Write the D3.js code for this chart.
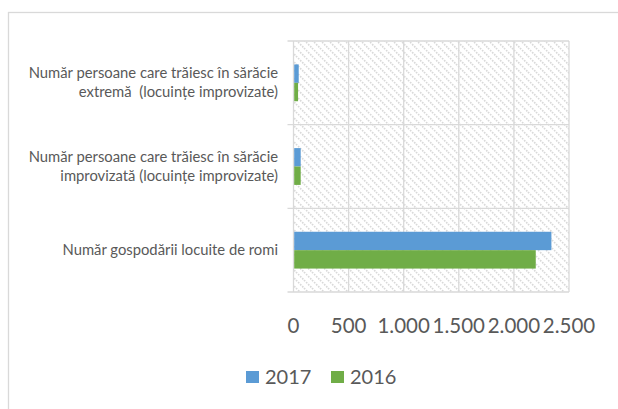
<!DOCTYPE html>
<html>
<head>
<meta charset="utf-8">
<script src="https://cdn.jsdelivr.net/npm/d3@7"></script>
<style>
  html, body { margin: 0; padding: 0; background: #fff; }
  svg { display: block; }
  text { font-family: Lato, "Open Sans", sans-serif; fill: #595959; }
</style>
</head>
<body>
<svg id="chart" width="618" height="409"></svg>
<script>
// Categories (top to bottom), each split into its printed lines
const categories = [
  "Număr persoane care trăiesc în sărăcie extremă  (locuințe improvizate)",
  "Număr persoane care trăiesc în sărăcie improvizată (locuințe improvizate)",
  "Număr gospodării locuite de romi"
];
const categoryLines = [
  ["Număr persoane care trăiesc în sărăcie", "extremă  (locuințe improvizate)"],
  ["Număr persoane care trăiesc în sărăcie", "improvizată (locuințe improvizate)"],
  ["Număr gospodării locuite de romi"]
];
const seriesNames = ["2017", "2016"];
const values2017 = [41, 59, 2334];
const values2016 = [35, 59, 2192];
const xTicks = [0, 500, 1000, 1500, 2000, 2500];
const colors = ["#5b9bd5", "#70ad47"];

const series = [values2017, values2016];
const svg = d3.select("#chart");

// Outer chart-area border
svg.append("rect")
  .attr("x", 8.5).attr("y", 12.5)
  .attr("width", 640).attr("height", 420)
  .attr("fill", "#fff").attr("stroke", "#d9d9d9").attr("stroke-width", 1.3);

const plot = { left: 293.5, right: 569, top: 41, bottom: 292 };

const x = d3.scaleLinear().domain([0, 2500]).range([plot.left, plot.right]);
const y = d3.scaleBand().domain(categories)
  .range([plot.top, plot.bottom]).paddingInner(0.56).paddingOuter(0.28);
const ySub = d3.scaleBand().domain(seriesNames).range([0, y.bandwidth()]);

// Diagonal hatch fill for the plot area
const defs = svg.append("defs");
const pat = defs.append("pattern")
  .attr("id", "hatch").attr("patternUnits", "userSpaceOnUse")
  .attr("width", 8).attr("height", 8);
pat.append("path")
  .attr("d", "M-2,-2 L10,10 M-2,6 L2,10 M6,-2 L10,2")
  .attr("stroke", "#d9d9d9").attr("stroke-width", 1.7)
  .attr("stroke-dasharray", "1.6,1.3");

svg.append("rect")
  .attr("x", plot.left).attr("y", plot.top)
  .attr("width", plot.right - plot.left).attr("height", plot.bottom - plot.top)
  .attr("fill", "url(#hatch)");

// Vertical gridlines
const grid = svg.append("g").attr("stroke", "#d9d9d9").attr("stroke-width", 1.3);
grid.selectAll("line.v").data(xTicks).join("line")
  .attr("x1", d => x(d)).attr("x2", d => x(d))
  .attr("y1", plot.top).attr("y2", plot.bottom);

// Horizontal category separators
const bounds = [plot.top].concat(categories.map(c => y(c) - y.paddingOuter() * y.step() + y.step()));
grid.selectAll("line.h").data(bounds).join("line")
  .attr("x1", plot.left - 6).attr("x2", plot.right)
  .attr("y1", d => d).attr("y2", d => d);

// Bars
series.forEach((vals, si) => {
  svg.append("g").selectAll("rect").data(vals).join("rect")
    .attr("x", x(0) + 0.7)
    .attr("y", (d, i) => y(categories[i]) + ySub(seriesNames[si]))
    .attr("width", d => x(d) - x(0))
    .attr("height", ySub.bandwidth())
    .attr("fill", colors[si]);
});

// X axis tick labels
const locale = d3.formatLocale({ decimal: ",", thousands: ".", grouping: [3], currency: ["", ""] });
const fmt = locale.format(",");
svg.append("g").selectAll("text").data(xTicks).join("text")
  .attr("x", d => x(d)).attr("y", 333)
  .attr("text-anchor", "middle")
  .style("font-size", "20.5px")
  .text(d => fmt(d));

// Category labels
const lab = svg.append("g");
categories.forEach((c, i) => {
  const lines = categoryLines[i];
  const cy = y(c) + y.bandwidth() / 2;
  const lh = 19;
  const t = lab.append("text")
    .attr("text-anchor", "end")
    .style("font-size", "14.8px")
    .style("white-space", "pre");
  lines.forEach((ln, k) => {
    t.append("tspan")
      .attr("x", 278)
      .attr("y", cy + (k - (lines.length - 1) / 2) * lh + 5)
      .text(ln);
  });
});

// Legend
const legendX = [246, 331];
const lg = svg.append("g");
seriesNames.forEach((s, i) => {
  lg.append("rect")
    .attr("x", legendX[i]).attr("y", 371)
    .attr("width", 13).attr("height", 12)
    .attr("fill", colors[i]);
  lg.append("text")
    .attr("x", legendX[i] + 19).attr("y", 384)
    .style("font-size", "20px")
    .text(s);
});
</script>
</body>
</html>
